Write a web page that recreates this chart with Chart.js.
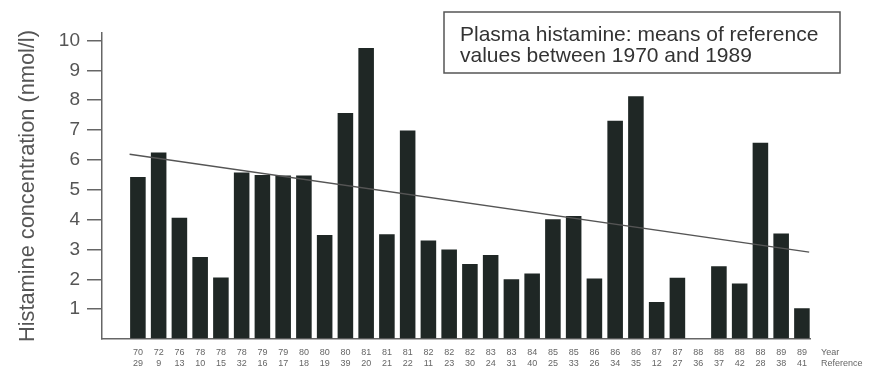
<!DOCTYPE html>
<html>
<head>
<meta charset="utf-8">
<script src="https://cdn.jsdelivr.net/npm/chart.js@4/dist/chart.umd.min.js"></script>
<style>
  html, body { margin: 0; padding: 0; background: #ffffff; }
  #wrap { width: 874px; height: 375px; }
</style>
</head>
<body>
<div id="wrap"><canvas id="chart" width="874" height="375"></canvas></div>
<script>
// Publication year and reference number of each study
const years = ['70','72','76','78','78','78','79','79','80','80','80','81','81','81','82','82','82',
               '83','83','84','85','85','86','86','86','87','87','88','88','88','88','89','89'];
const refs  = ['29','9','13','10','15','32','16','17','18','19','39','20','21','22','11','23','30',
               '24','31','40','25','33','26','34','35','12','27','36','37','42','28','38','41'];
// Mean plasma histamine reported by each study (nmol/l); no value for 88/36
const histamine = [5.43, 6.25, 4.06, 2.75, 2.06, 5.58, 5.49, 5.48, 5.48, 3.48, 7.57, 9.75, 3.51, 6.98,
                   3.30, 3.00, 2.51, 2.81, 2.00, 2.19, 4.01, 4.12, 2.03, 7.31, 8.13, 1.24, 2.05, null,
                   2.44, 1.86, 6.57, 3.53, 1.03];
// Linear trend line end points (position along the study axis, nmol/l)
const trendX = [-0.4, 32.35];
const trendY = [6.19, 2.91];

const FONT = "'Liberation Sans', Arial, Helvetica, sans-serif";
const AXIS_GRAY = '#666666';

// Boxed caption in the upper right and the row names beside the x labels
const notes = {
  id: 'notes',
  afterDraw(chart) {
    const ctx = chart.ctx;
    const area = chart.chartArea;
    ctx.save();
    // caption box
    ctx.fillStyle = '#ffffff';
    ctx.strokeStyle = '#555555';
    ctx.lineWidth = 1.5;
    ctx.fillRect(444, 12, 396, 61);
    ctx.strokeRect(444, 12, 396, 61);
    ctx.fillStyle = '#333333';
    ctx.font = '21px ' + FONT;
    ctx.textAlign = 'left';
    ctx.textBaseline = 'alphabetic';
    ctx.fillText('Plasma histamine: means of reference', 460, 41);
    ctx.fillText('values between 1970 and 1989', 460, 62);
    // row names for the two-line x labels
    const xs = chart.scales.x;
    const tk = xs.options.ticks;
    const lh = 11;
    const y0 = xs.top + tk.padding + lh / 2;
    ctx.fillStyle = '#666666';
    ctx.font = '9px ' + FONT;
    ctx.textBaseline = 'middle';
    ctx.fillText('Year', area.right + 11, y0);
    ctx.fillText('Reference', area.right + 11, y0 + lh);
    ctx.restore();
  }
};

new Chart(document.getElementById('chart'), {
  data: {
    datasets: [
      {
        type: 'bar',
        data: histamine.map((v, i) => ({ x: i, y: v })),
        backgroundColor: '#1f2725',
        borderWidth: 0,
        categoryPercentage: 1.0,
        barPercentage: 0.75,
        order: 2
      },
      {
        type: 'line',
        data: trendX.map((x, i) => ({ x: x, y: trendY[i] })),
        borderColor: '#555555',
        borderWidth: 1.5,
        pointRadius: 0,
        fill: false,
        order: 1
      }
    ]
  },
  options: {
    responsive: false,
    animation: false,
    layout: { padding: { top: 33, right: 64, left: 0, bottom: 0 } },
    plugins: {
      legend: { display: false },
      tooltip: { enabled: false }
    },
    scales: {
      x: {
        type: 'linear',
        offset: false,
        min: -1.73,
        max: 32.39,
        afterFit: s => { s.height = 36; },
        border: { display: true, color: AXIS_GRAY, width: 1.5 },
        grid: { display: false, drawTicks: false },
        ticks: {
          stepSize: 1,
          autoSkip: false,
          includeBounds: false,
          maxRotation: 0,
          minRotation: 0,
          padding: 8.5,
          color: '#666666',
          font: { family: FONT, size: 9, lineHeight: '11px' },
          callback: v => (Number.isInteger(v) && v >= 0 && v < years.length) ? [years[v], refs[v]] : ''
        }
      },
      y: {
        min: 0,
        max: 10.25,
        afterFit: s => { s.width = 102; },
        border: { display: true, color: AXIS_GRAY, width: 1.5 },
        grid: {
          drawOnChartArea: false,
          drawTicks: true,
          tickLength: 15,
          lineWidth: 1.5,
          color: c => (c.tick && c.tick.value === 0) ? 'rgba(0,0,0,0)' : AXIS_GRAY
        },
        ticks: {
          stepSize: 1,
          includeBounds: false,
          padding: 7,
          color: '#555555',
          font: { family: FONT, size: 19 },
          callback: v => v === 0 ? '' : v
        },
        title: {
          display: true,
          text: 'Histamine concentration (nmol/l)',
          color: '#555555',
          font: { family: FONT, size: 21.75 },
          padding: { top: 15, bottom: 0 }
        }
      }
    }
  },
  plugins: [notes]
});
</script>
</body>
</html>
